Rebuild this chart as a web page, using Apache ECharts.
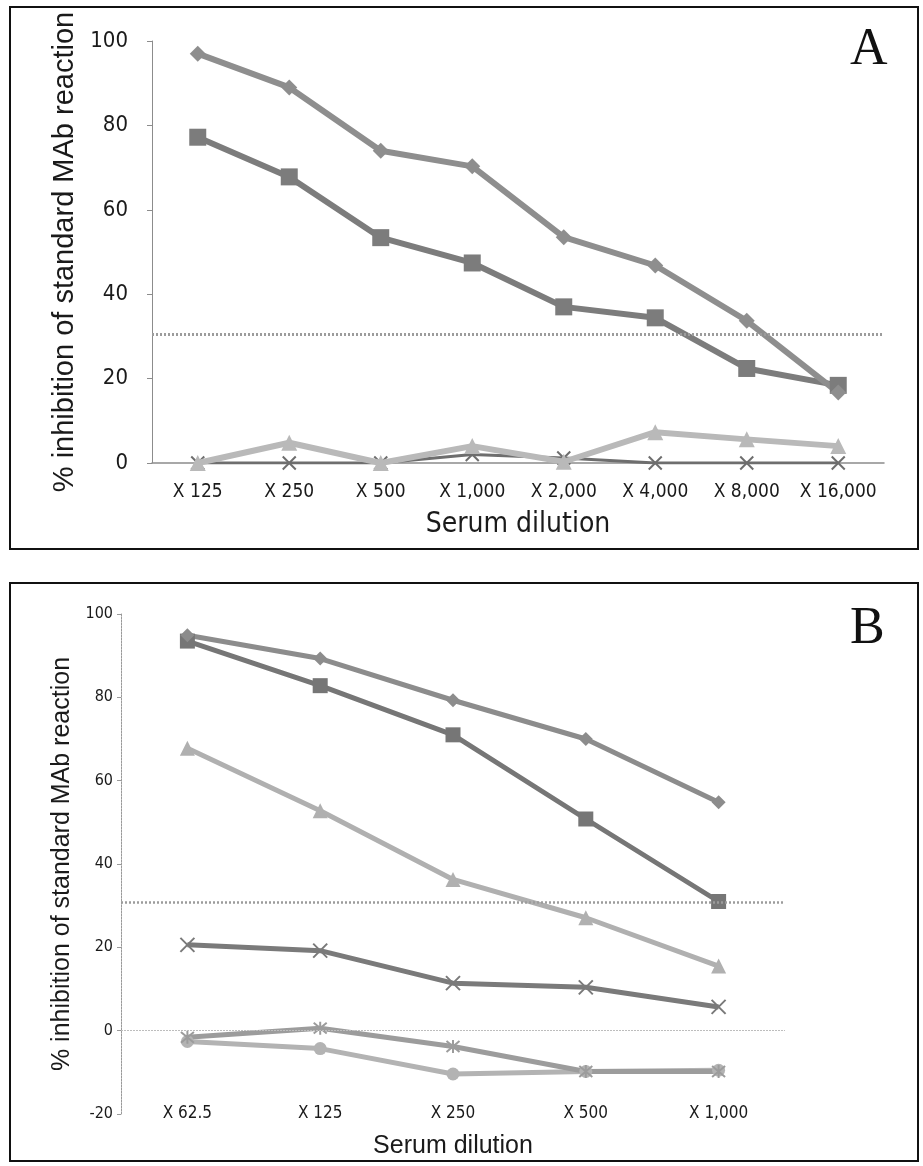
<!DOCTYPE html>
<html>
<head>
<meta charset="utf-8">
<script src="https://cdn.jsdelivr.net/npm/echarts@6/dist/echarts.min.js"></script>
<style>
html,body{margin:0;padding:0;background:#fff;}
#chart{width:923px;height:1166px;}
</style>
</head>
<body>
<div id="chart"></div>
<script>
// ---- Panel A data ----
const catsA = ['X 125', 'X 250', 'X 500', 'X 1,000', 'X 2,000', 'X 4,000', 'X 8,000', 'X 16,000'];
const a_diamond = [97.0, 89.0, 74.0, 70.3, 53.5, 46.8, 33.7, 16.7];
const a_square = [77.2, 67.8, 53.4, 47.4, 37.0, 34.4, 22.4, 18.4];
const a_triangle = [0, 4.8, 0, 4.0, 0.3, 7.3, 5.6, 4.0];
const a_cross = [0, 0, 0, 2.0, 1.2, 0, 0, 0];
const a_cutoff = 30.5;

// ---- Panel B data ----
const catsB = ['X 62.5', 'X 125', 'X 250', 'X 500', 'X 1,000'];
const b_diamond = [94.9, 89.3, 79.3, 70.0, 54.8];
const b_square = [93.5, 82.8, 71.0, 50.8, 31.0];
const b_triangle = [67.8, 52.8, 36.3, 27.1, 15.5];
const b_cross = [20.6, 19.2, 11.4, 10.4, 5.7];
const b_star = [-1.6, 0.6, -3.8, -9.8, -9.8];
const b_circle = [-2.6, -4.3, -10.4, -9.8, -9.5];
const b_cutoff = 30.8;

const yTicksA = [0, 20, 40, 60, 80, 100];
const yTicksB = [-20, 0, 20, 40, 60, 80, 100];

const NARROW = '"Liberation Sans Narrow", "DejaVu Sans Condensed", sans-serif';
const SANS = '"Liberation Sans", Arial, sans-serif';
const SERIF = '"Liberation Serif", "DejaVu Serif", serif';

const crossPath = 'path://M0,0L10,10M10,0L0,10';
const starPath = 'path://M0,0L10,10M10,0L0,10M5,-1L5,11';

function line(name, xi, yi, data, color, symbol, size, width, strokeSym) {
  const s = {
    name: name, type: 'line', xAxisIndex: xi, yAxisIndex: yi, data: data,
    symbol: symbol, symbolSize: size, showSymbol: true,
    lineStyle: {color: color, width: width},
    itemStyle: {color: color},
    z: 3
  };
  if (strokeSym) {
    s.itemStyle = {color: 'rgba(0,0,0,0)', borderColor: color, borderWidth: 2};
  }
  return s;
}

const chart = echarts.init(document.getElementById('chart'), null, {renderer: 'canvas'});
const option = {
  backgroundColor: '#ffffff',
  animation: false,
  grid: [
    {left: 152, right: 39, top: 41, bottom: 703},
    {left: 121, right: 138, top: 614, bottom: 52}
  ],
  xAxis: [
    {
      gridIndex: 0, type: 'category', data: catsA, boundaryGap: true,
      axisLine: {onZero: true, lineStyle: {color: '#8c8c8c', width: 1.5}},
      axisTick: {show: false},
      axisLabel: {color: '#1a1a1a', fontFamily: NARROW, fontSize: 19, margin: 20, interval: 0},
      name: 'Serum dilution', nameLocation: 'middle', nameGap: 48,
      nameTextStyle: {color: '#1a1a1a', fontFamily: NARROW, fontSize: 28}
    },
    {
      gridIndex: 1, type: 'category', data: catsB, boundaryGap: true,
      position: 'bottom',
      axisLine: {show: false, onZero: false},
      axisTick: {show: false},
      axisLabel: {color: '#1a1a1a', fontFamily: NARROW, fontSize: 17, margin: -9, interval: 0},
      name: 'Serum dilution', nameLocation: 'middle', nameGap: 20,
      nameTextStyle: {color: '#1a1a1a', fontFamily: SANS, fontSize: 25}
    }
  ],
  yAxis: [
    {
      gridIndex: 0, type: 'value', min: 0, max: 100, interval: 20,
      axisLine: {show: true, lineStyle: {color: '#8c8c8c', width: 1}},
      axisTick: {show: true, inside: false, length: 5, lineStyle: {color: '#8c8c8c'}},
      splitLine: {show: false},
      axisLabel: {color: '#1a1a1a', fontFamily: NARROW, fontSize: 22, margin: 24,
        formatter: v => yTicksA.indexOf(v) >= 0 ? String(v) : ''},
      name: '% inhibition of standard MAb reaction', nameLocation: 'middle', nameGap: 72,
      nameTextStyle: {color: '#1a1a1a', fontFamily: SANS, fontSize: 29}
    },
    {
      gridIndex: 1, type: 'value', min: -20, max: 100, interval: 20,
      axisLine: {show: true, lineStyle: {color: '#9a9a9a', width: 1, type: [2, 1]}},
      axisTick: {show: true, inside: false, length: 4, lineStyle: {color: '#9a9a9a'}},
      splitLine: {show: false},
      axisLabel: {color: '#1a1a1a', fontFamily: NARROW, fontSize: 16, margin: 8,
        formatter: v => yTicksB.indexOf(v) >= 0 ? String(v) : ''},
      name: '% inhibition of standard MAb reaction', nameLocation: 'middle', nameGap: 42,
      nameTextStyle: {color: '#1a1a1a', fontFamily: SANS, fontSize: 25}
    }
  ],
  series: [
    // Panel A
    Object.assign(line('A cross', 0, 0, a_cross, '#6e6e6e', crossPath, 13, 3, true), {z: 2}),
    line('A triangle', 0, 0, a_triangle, '#b9b9b9', 'triangle', 16, 6),
    Object.assign(line('A square', 0, 0, a_square, '#7c7c7c', 'rect', 17, 6), {
      markLine: {
        silent: true, symbol: 'none', label: {show: false},
        lineStyle: {color: '#9c9c9c', width: 3, type: [2, 2]},
        data: [{yAxis: a_cutoff}]
      }
    }),
    line('A diamond', 0, 0, a_diamond, '#8e8e8e', 'diamond', 16, 6),
    // Panel B
    line('B circle', 1, 1, b_circle, '#b3b3b3', 'circle', 13, 5),
    Object.assign(line('B star', 1, 1, b_star, '#9c9c9c', starPath, 13, 5, true), {
      markLine: {
        silent: true, symbol: 'none', label: {show: false},
        data: [
          {yAxis: 0, lineStyle: {color: '#bdbdbd', width: 1, type: [2, 1]}},
          {yAxis: b_cutoff, lineStyle: {color: '#9c9c9c', width: 2.5, type: [2, 2]}}
        ]
      }
    }),
    line('B cross', 1, 1, b_cross, '#7a7a7a', crossPath, 14, 5, true),
    line('B triangle', 1, 1, b_triangle, '#b0b0b0', 'triangle', 15, 5),
    line('B square', 1, 1, b_square, '#767676', 'rect', 15, 5),
    line('B diamond', 1, 1, b_diamond, '#8c8c8c', 'diamond', 14, 5)
  ],
  graphic: [
    {type: 'rect', shape: {x: 10, y: 7, width: 908, height: 542},
     style: {fill: 'none', stroke: '#111', lineWidth: 2}, z: 0},
    {type: 'rect', shape: {x: 10, y: 583, width: 908, height: 578},
     style: {fill: 'none', stroke: '#111', lineWidth: 2}, z: 0},
    {type: 'text', left: 850, top: 24,
     style: {text: 'A', font: '52px ' + SERIF, fill: '#111'}},
    {type: 'text', left: 850, top: 603,
     style: {text: 'B', font: '52px ' + SERIF, fill: '#111'}}
  ]
};
chart.setOption(option);
</script>
</body>
</html>
